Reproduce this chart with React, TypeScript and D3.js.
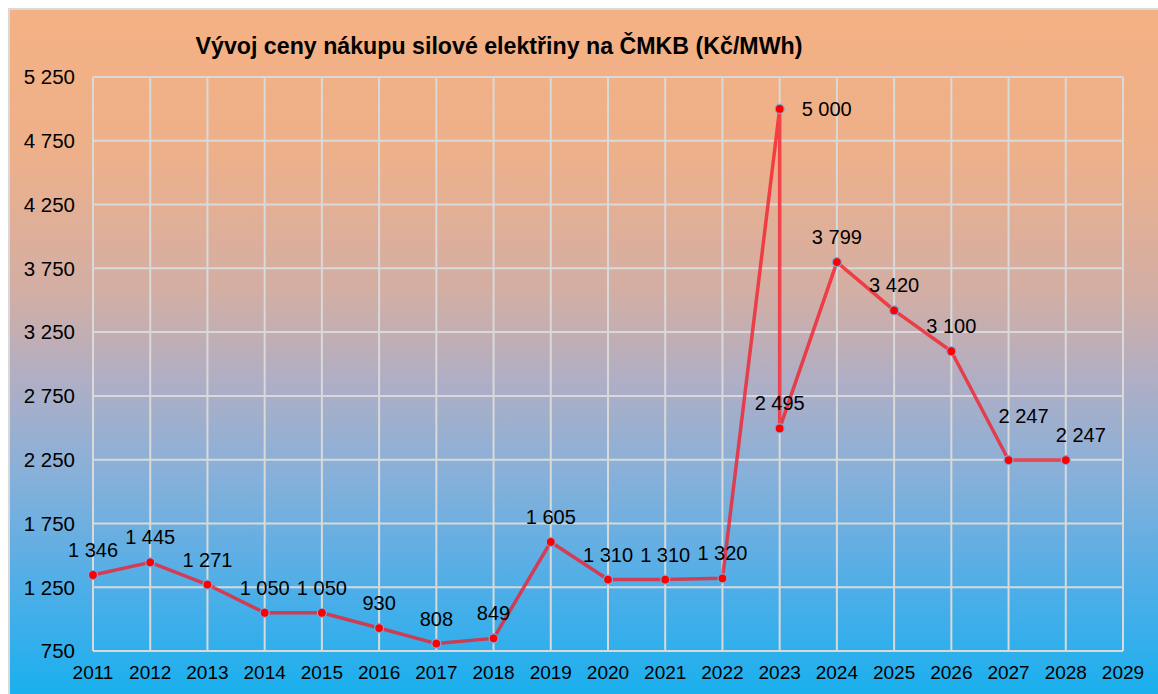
import React from 'react';
import * as d3 from 'd3';

// chart data
const years = [2011, 2012, 2013, 2014, 2015, 2016, 2017, 2018, 2019, 2020, 2021, 2022, 2023, 2023, 2024, 2025, 2026, 2027, 2028];
const prices = [1346, 1445, 1271, 1050, 1050, 930, 808, 849, 1605, 1310, 1310, 1320, 5000, 2495, 3799, 3420, 3100, 2247, 2247];
const xTicks = d3.range(2011, 2030);
const yTicks = d3.range(750, 5251, 500);
const title = 'Vývoj ceny nákupu silové elektřiny na ČMKB (Kč/MWh)';

// label placement tweaks (index -> side / extra shift)
const labelRight = new Set([12]);
const labelShift: Record<number, [number, number]> = { 17: [15, -19], 18: [15, 0] };

const W = 1158;
const H = 694;
const margin = { left: 93, right: 35, top: 77, bottom: 43 };

const fmt = (v: number) => {
  const s = String(v);
  return s.length > 3 ? s.slice(0, s.length - 3) + ' ' + s.slice(-3) : s;
};

const App: React.FC = () => {
  const x = d3.scaleLinear().domain([2011, 2029]).range([margin.left, W - margin.right]);
  const y = d3.scaleLinear().domain([750, 5250]).range([H - margin.bottom, margin.top]);

  const points = years.map((yr, i) => ({ yr, v: prices[i], i }));
  const line = d3.line<{ yr: number; v: number }>()
    .x((d) => x(d.yr))
    .y((d) => y(d.v));

  const font = 'Arial, "Liberation Sans", sans-serif';
  const grid = '#D9D9D9';

  return (
    <svg
      width={W}
      height={H}
      style={{ position: 'absolute', left: 0, top: 0, display: 'block' }}
      fontFamily={font}
    >
      <defs>
        <linearGradient id="bg" x1="0" y1="0" x2="0" y2="1">
          <stop offset="0" stopColor="#F4B183" />
          <stop offset="0.2" stopColor="#EEB08A" />
          <stop offset="0.4" stopColor="#D2AEA5" />
          <stop offset="0.52" stopColor="#B0AEC5" />
          <stop offset="0.65" stopColor="#88B0D9" />
          <stop offset="0.8" stopColor="#52AEE7" />
          <stop offset="1" stopColor="#0CB0F0" />
        </linearGradient>
      </defs>
      <rect width={W} height={H} fill="#fff" />
      <rect x={9} y={9} width={W + 20} height={H + 20} fill="url(#bg)" stroke={grid} strokeWidth={2} />

      <text x={499} y={54} textAnchor="middle" fontSize={23.2} fontWeight="bold" fill="#000">
        {title}
      </text>

      {/* grid */}
      <g stroke={grid} strokeWidth={2}>
        {yTicks.map((t) => (
          <line key={'h' + t} x1={x(2011)} x2={x(2029)} y1={y(t)} y2={y(t)} />
        ))}
        {xTicks.map((t) => (
          <line key={'v' + t} x1={x(t)} x2={x(t)} y1={y(750)} y2={y(5250)} />
        ))}
      </g>

      {/* axis labels */}
      <g fontSize={20.5} fill="#000" textAnchor="end">
        {yTicks.map((t) => (
          <text key={'yl' + t} x={75} y={y(t)} dy="0.36em">{fmt(t)}</text>
        ))}
      </g>
      <g fontSize={19} fill="#000" textAnchor="middle">
        {xTicks.map((t) => (
          <text key={'xl' + t} x={x(t)} y={679}>{t}</text>
        ))}
      </g>

      {/* series */}
      <path d={line(points) || ''} fill="none" stroke="#F51E2A" strokeOpacity={0.78} strokeWidth={3.5} strokeLinejoin="round" />
      {points.map((p) => (
        <circle key={'c' + p.i} cx={x(p.yr)} cy={y(p.v)} r={4.5} fill="#FF0000" stroke="#7FA6DD" strokeWidth={1.2} />
      ))}

      {/* data labels */}
      <g fontSize={20} fill="#000">
        {points.map((p) => {
          const [sx, sy] = labelShift[p.i] || [0, 0];
          if (labelRight.has(p.i)) {
            return (
              <text key={'l' + p.i} x={x(p.yr) + 22} y={y(p.v)} dy="0.36em" textAnchor="start">{fmt(p.v)}</text>
            );
          }
          return (
            <text key={'l' + p.i} x={x(p.yr) + sx} y={y(p.v) - 18 + sy} textAnchor="middle">{fmt(p.v)}</text>
          );
        })}
      </g>
    </svg>
  );
};

export default App;
